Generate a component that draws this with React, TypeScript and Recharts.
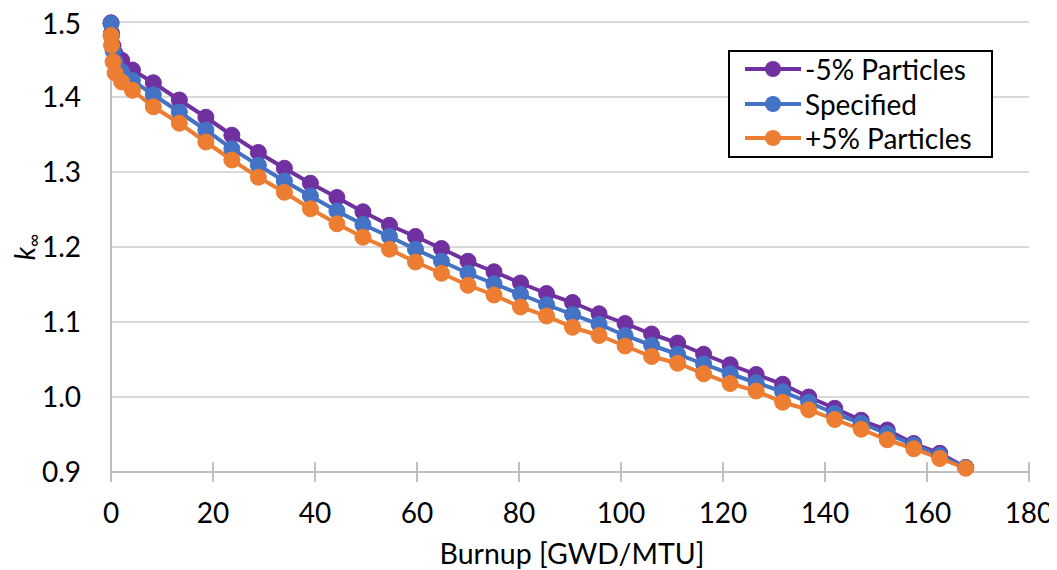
import React from "react"
import {
  LineChart,
  Line,
  XAxis,
  YAxis,
  CartesianGrid,
  Legend,
} from "recharts"

// burnup steps [GWD/MTU]
const BURNUP = [
  0, 0.1, 0.4, 0.8, 2.1, 4.2, 8.3, 13.4, 18.6, 23.7, 28.9, 34.0, 39.1, 44.3, 49.4, 54.6,
  59.7, 64.8, 70.0, 75.1, 80.3, 85.4, 90.5, 95.7, 100.8, 106.0, 111.1, 116.2, 121.4,
  126.5, 131.7, 136.8, 141.9, 147.1, 152.2, 157.4, 162.5, 167.6,
]

const K_MINUS5 = [
  1.499, 1.485, 1.468, 1.458, 1.449, 1.436, 1.419, 1.396, 1.373, 1.349, 1.326, 1.305, 1.285,
  1.266, 1.247, 1.229, 1.214, 1.198, 1.181, 1.167, 1.152, 1.138, 1.126, 1.111, 1.098, 1.084,
  1.072, 1.057, 1.043, 1.03, 1.017, 1.0, 0.985, 0.969, 0.956, 0.938, 0.925, 0.906,
]

const K_SPECIFIED = [
  1.498, 1.482, 1.462, 1.447, 1.434, 1.422, 1.403, 1.38, 1.356, 1.331, 1.309, 1.288, 1.268,
  1.248, 1.23, 1.214, 1.197, 1.181, 1.165, 1.151, 1.137, 1.123, 1.11, 1.097, 1.082, 1.069,
  1.057, 1.044, 1.031, 1.019, 1.007, 0.993, 0.978, 0.965, 0.951, 0.936, 0.922, 0.906,
]

const K_PLUS5 = [
  1.482, 1.469, 1.447, 1.432, 1.42, 1.409, 1.387, 1.365, 1.34, 1.316, 1.293, 1.273, 1.251,
  1.231, 1.213, 1.197, 1.18, 1.165, 1.149, 1.136, 1.12, 1.108, 1.093, 1.082, 1.068, 1.054,
  1.045, 1.031, 1.018, 1.008, 0.993, 0.983, 0.97, 0.957, 0.943, 0.931, 0.918, 0.905,
]

const X_TICKS = [0, 20, 40, 60, 80, 100, 120, 140, 160, 180]
const Y_TICKS = [0.9, 1.0, 1.1, 1.2, 1.3, 1.4, 1.5]

const SERIES = [
  { key: "minus", name: "-5% Particles", color: "#7030A0" },
  { key: "spec", name: "Specified", color: "#4472C4" },
  { key: "plus", name: "+5% Particles", color: "#ED7D31" },
]

const data = BURNUP.map((b, i) => ({
  burnup: b,
  minus: K_MINUS5[i],
  spec: K_SPECIFIED[i],
  plus: K_PLUS5[i],
}))

const FONT = "Lato, 'Open Sans', sans-serif"
const AXIS_GRAY = "#bfbfbf"

// Excel style "cross" tick: recharts draws the lower half, we add the upper half
const XTick = (props: any) => {
  const { x, y, payload } = props
  const axisY = y - 10
  return (
    <g>
      <line x1={x} x2={x} y1={axisY - 10} y2={axisY} stroke={AXIS_GRAY} strokeWidth={2} />
      <text x={x} y={axisY + 51} textAnchor="middle" fontSize={28} fontFamily={FONT} fill="#000">
        {payload.value}
      </text>
    </g>
  )
}

const YTitle = (props: any) => {
  const { viewBox } = props
  const cx = viewBox.x + 27
  const cy = viewBox.y + viewBox.height / 2
  return (
    <text
      x={cx}
      y={cy}
      transform={`rotate(-90, ${cx}, ${cy})`}
      textAnchor="middle"
      fontFamily={FONT}
      fontSize={28}
      fill="#000"
    >
      <tspan fontStyle="italic">k</tspan>
      <tspan fontSize={18} dy={5}>∞</tspan>
    </text>
  )
}

const XTitle = (props: any) => {
  const { viewBox } = props
  return (
    <text
      x={viewBox.x + viewBox.width / 2 + 2}
      y={viewBox.y + 92}
      textAnchor="middle"
      fontFamily={FONT}
      fontSize={28.5}
      fill="#000"
    >
      Burnup [GWD/MTU]
    </text>
  )
}

const renderLegend = () => (
  <div
    style={{
      border: "2px solid #000",
      background: "#fff",
      padding: "0px 10px 0px 15px",
      fontFamily: FONT,
      fontSize: 28,
      lineHeight: 1,
      color: "#000",
      boxSizing: "border-box",
      width: 265,
    }}
  >
    {SERIES.map((s) => (
      <div key={s.key} style={{ display: "flex", alignItems: "center", height: 34.5 }}>
        <svg width={56} height={20} style={{ marginRight: 4 }}>
          <line x1={0} x2={56} y1={10} y2={10} stroke={s.color} strokeWidth={4} />
          <circle cx={28} cy={10} r={8} fill={s.color} />
        </svg>
        <span>{s.name}</span>
      </div>
    ))}
  </div>
)

export default function App() {
  return (
    <>
      <style>{".recharts-surface { overflow: visible; }"}</style>
      <LineChart
        width={1049}
        height={562}
        data={data}
        margin={{ top: 14, right: 28, left: 0, bottom: 0 }}
      >
        <CartesianGrid vertical={false} stroke="#d9d9d9" strokeWidth={2} />
        <XAxis
          dataKey="burnup"
          type="number"
          domain={[0, 180]}
          ticks={X_TICKS}
          height={98}
          tickSize={10}
          tickMargin={0}
          tickLine={{ stroke: AXIS_GRAY, strokeWidth: 2 }}
          axisLine={{ stroke: AXIS_GRAY, strokeWidth: 2 }}
          tick={<XTick />}
          label={<XTitle />}
        />
        <YAxis
          type="number"
          domain={[0.9, 1.5]}
          ticks={Y_TICKS}
          width={103}
          tickLine={false}
          tickMargin={24}
          axisLine={{ stroke: AXIS_GRAY, strokeWidth: 2 }}
          tickFormatter={(v: number) => v.toFixed(1)}
          tick={{ fontSize: 28, fontFamily: FONT, fill: "#000" }}
          label={<YTitle />}
        />
        <Legend
          content={renderLegend}
          layout="horizontal"
          verticalAlign="middle"
          align="center"
          wrapperStyle={{ left: 720, top: 42, width: 265, height: 108 }}
        />
        {SERIES.map((s) => (
          <Line
            key={s.key}
            dataKey={s.key}
            name={s.name}
            stroke={s.color}
            strokeWidth={4}
            dot={{ r: 8, fill: s.color, stroke: s.color, strokeWidth: 1 }}
            activeDot={false}
            isAnimationActive={false}
          />
        ))}
      </LineChart>
    </>
  )
}
